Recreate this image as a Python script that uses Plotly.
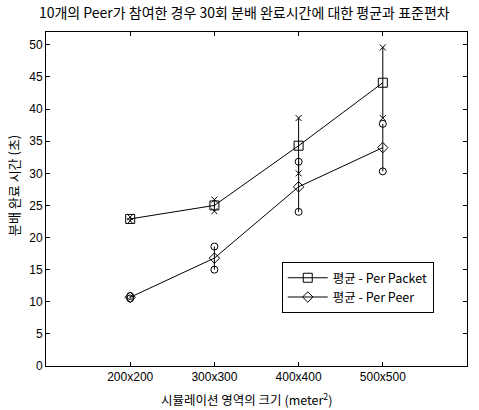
import plotly.graph_objects as go

# Simulation area sizes (x categories)
sizes = ["200x200", "300x300", "400x400", "500x500"]

# Completion time over 30 runs with 10 peers: mean and standard deviation
packet_mean = [22.9, 25.0, 34.3, 44.1]
packet_std = [0.3, 0.9, 4.3, 5.5]
peer_mean = [10.7, 16.8, 27.9, 34.0]
peer_std = [0.2, 1.8, 3.9, 3.7]

y_ticks = [0, 5, 10, 15, 20, 25, 30, 35, 40, 45, 50]

KR = "Noto Sans CJK KR"
LAT = "Liberation Sans, Arial"

fig = go.Figure()


def add_series(name, mean, std, symbol, size, end_symbol, end_size):
    # mean line with vertical std bars
    fig.add_trace(go.Scatter(
        x=sizes, y=mean, name=name, mode="lines+markers",
        line=dict(color="black", width=1),
        marker=dict(symbol=symbol, size=size, color="black",
                    line=dict(color="black", width=1)),
        error_y=dict(type="data", array=std, visible=True,
                     color="black", thickness=1, width=0),
    ))
    # markers at the ends of each std bar
    ends_x = sizes + sizes
    ends_y = [m + s for m, s in zip(mean, std)] + [m - s for m, s in zip(mean, std)]
    fig.add_trace(go.Scatter(
        x=ends_x, y=ends_y, mode="markers", showlegend=False, hoverinfo="skip",
        marker=dict(symbol=end_symbol, size=end_size, color="black",
                    line=dict(color="black", width=1)),
    ))


add_series("평균 - Per Packet", packet_mean, packet_std, "square-open", 9, "x-thin", 6)
add_series("평균 - Per Peer", peer_mean, peer_std, "diamond-open", 8, "circle-open", 7)

axis_common = dict(
    showline=True, linecolor="black", linewidth=1, mirror="ticks",
    ticks="inside", ticklen=4, tickcolor="black", tickwidth=1,
    showgrid=False, zeroline=False,
    tickfont=dict(family=LAT, size=12, color="black"),
)

fig.update_xaxes(type="category", categoryorder="array", categoryarray=sizes,
                 range=[-1, 4], **axis_common)
fig.update_yaxes(range=[0, 52], tickvals=y_ticks, **axis_common)

fig.update_layout(
    width=479, height=410,
    margin=dict(l=46, r=12, t=32, b=44),
    paper_bgcolor="white", plot_bgcolor="white",
    title=dict(text="10개의 Peer가 참여한 경우 30회 분배 완료시간에 대한 평균과 표준편차",
               font=dict(family=KR, size=14, color="black"),
               x=0.51, xanchor="center", y=1 - 13 / 410, yanchor="middle",
               xref="container", yref="container"),
    legend=dict(x=0.56, y=0.311, xanchor="left", yanchor="top",
                bgcolor="white", bordercolor="black", borderwidth=1,
                font=dict(family=KR, size=12.5, color="black"),
                itemwidth=40, tracegroupgap=0),
    showlegend=True,
    annotations=[
        dict(text="분배 완료 시간 (초)", xref="paper", yref="paper",
             x=-33 / 421, y=(366 - 186) / 334, xanchor="center", yanchor="middle",
             textangle=-90, showarrow=False,
             font=dict(family=KR, size=13, color="black")),
        dict(text="시뮬레이션 영역의 크기 (meter<sup>2</sup>)", xref="paper", yref="paper",
             x=(246 - 46) / 421, y=-(399 - 366) / 334, xanchor="center", yanchor="middle",
             showarrow=False,
             font=dict(family=KR, size=12.5, color="black")),
    ],
)

fig.write_html("out.html")
